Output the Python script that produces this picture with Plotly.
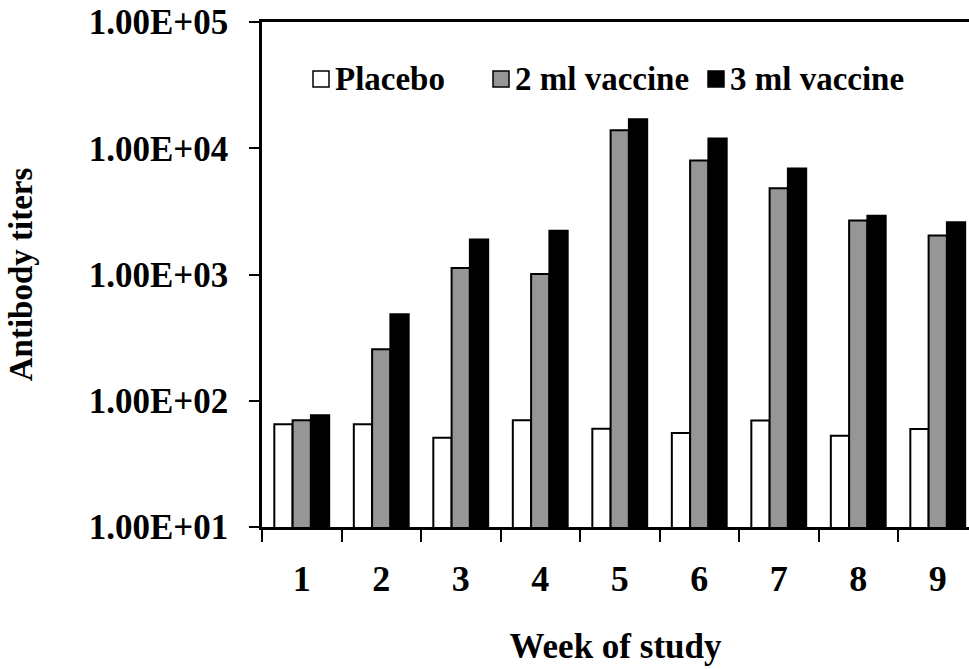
import plotly.graph_objects as go

weeks = ["1", "2", "3", "4", "5", "6", "7", "8", "9"]
placebo = [65, 65, 51, 70, 60, 55.6, 69.8, 52.8, 59.7]
vaccine_2ml = [70, 256, 1125, 1010, 13870, 8000, 4830, 2680, 2040]
vaccine_3ml = [76.6, 484, 1897, 2218, 16950, 11940, 6920, 2915, 2590]
series_names = ["Placebo", "2 ml vaccine", "3 ml vaccine"]
y_tick_vals = [10, 100, 1000, 10000, 100000]
y_tick_text = ["1.00E+01", "1.00E+02", "1.00E+03", "1.00E+04", "1.00E+05"]

FONT = "Times New Roman, Liberation Serif, Times, serif"
colors = ["#ffffff", "#969696", "#000000"]

W, H = 969, 669
L, R, T, B = 262, 0, 22, 141.5
PW, PH = W - L - R, H - T - B

fig = go.Figure()
for name, vals, col in zip(series_names, [placebo, vaccine_2ml, vaccine_3ml], colors):
    fig.add_trace(go.Bar(
        x=weeks, y=vals, name=name, showlegend=False,
        marker=dict(color=col, line=dict(color="#000000", width=2)),
    ))

# legend drawn as boxes + labels (pixel positions converted to paper coords)
legend_box_left = [313, 493, 708]
box = 16
legend_cy = 79
for name, col, bx in zip(series_names, colors, legend_box_left):
    fig.add_shape(
        type="rect", xref="paper", yref="paper",
        x0=(bx - L) / PW, x1=(bx + box - L) / PW,
        y0=(H - B - (legend_cy + box / 2)) / PH, y1=(H - B - (legend_cy - box / 2)) / PH,
        fillcolor=col, line=dict(color="black", width=1.5),
    )
    fig.add_annotation(
        xref="paper", yref="paper", x=(bx + box + 4 - L) / PW, y=(H - B - legend_cy) / PH,
        xanchor="left", yanchor="middle", text=name, showarrow=False,
        font=dict(family=FONT, size=33, weight="bold", color="black"),
    )

fig.update_layout(
    width=W, height=H,
    margin=dict(l=L, r=R, t=T, b=B, autoexpand=False),
    paper_bgcolor="white", plot_bgcolor="white",
    barmode="group", bargap=0.31, bargroupgap=0,
    font=dict(family=FONT, color="black", size=34, weight="bold"),
    showlegend=False,
)

fig.update_xaxes(
    type="category", range=[-0.5, 8.393],
    showline=True, linecolor="black", linewidth=2.5, mirror=True,
    ticks="outside", tickson="boundaries", ticklen=12, tickwidth=2, tickcolor="black",
    tickfont=dict(family=FONT, size=36, weight="bold"),
    ticklabelstandoff=18,
    showgrid=False, zeroline=False,
    title=dict(text="Week of study", font=dict(family=FONT, size=35, weight="bold"), standoff=36),
    automargin=False,
)
fig.update_yaxes(
    type="log", range=[1, 5],
    tickvals=y_tick_vals, ticktext=y_tick_text,
    showline=True, linecolor="black", linewidth=2.5,
    ticks="outside", ticklen=10, tickwidth=2, tickcolor="black",
    tickfont=dict(family=FONT, size=35, weight="bold"),
    ticklabelstandoff=14,
    showgrid=False, zeroline=False,
    title=dict(text="Antibody titers", font=dict(family=FONT, size=33, weight="bold"), standoff=47),
    automargin=False,
)

fig.write_html("out.html")
